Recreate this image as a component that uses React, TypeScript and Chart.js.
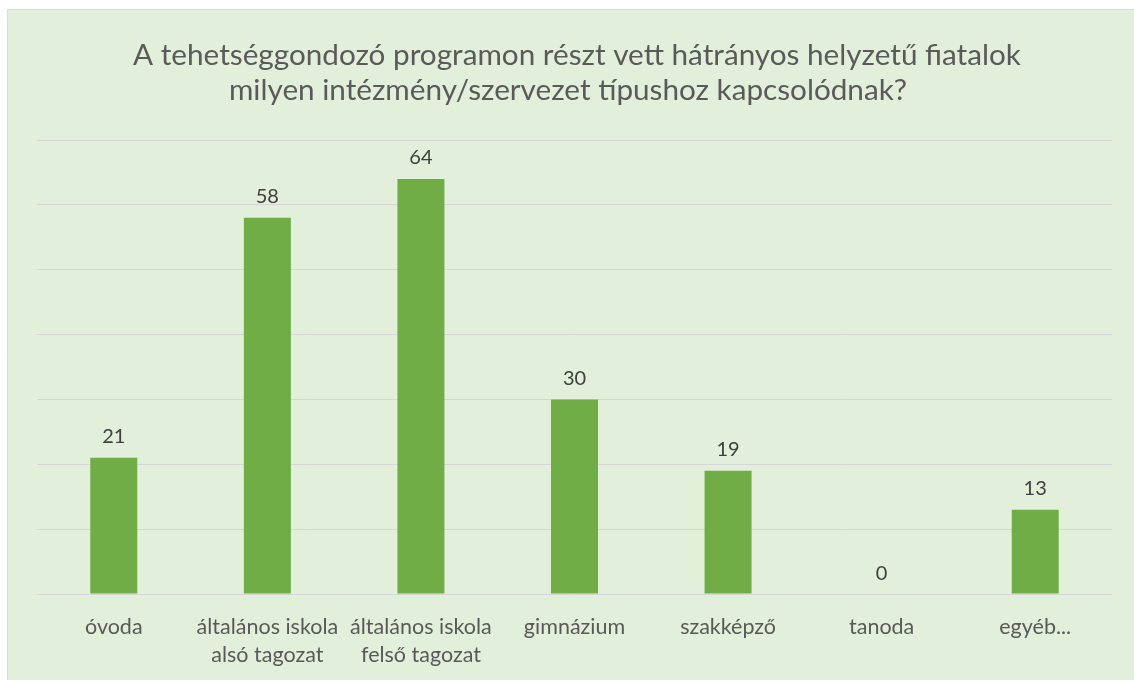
import React, { useEffect, useRef } from "react";
import { Chart, registerables } from "chart.js";
Chart.register(...registerables);

const titleLines = [
  "A tehetséggondozó programon részt vett hátrányos helyzetű fiatalok",
  "milyen intézmény/szervezet típushoz kapcsolódnak?",
];
const categories = [
  ["óvoda"],
  ["általános iskola", "alsó tagozat"],
  ["általános iskola", "felső tagozat"],
  ["gimnázium"],
  ["szakképző"],
  ["tanoda"],
  ["egyéb..."],
];
const values = [21, 58, 64, 30, 19, 0, 13];
const yMax = 70;
const yStep = 10;

const FONT = "Lato, 'Open Sans', sans-serif";
const H = 700;

export default function App() {
  const ref = useRef<HTMLCanvasElement>(null);
  useEffect(() => {
    const canvas = ref.current!;
    const bgPlugin = {
      id: "bg",
      beforeDraw(chart: any) {
        const ctx = chart.ctx;
        ctx.save();
        ctx.fillStyle = "#ffffff";
        ctx.fillRect(0, 0, chart.width, chart.height);
        ctx.fillStyle = "#e2efda";
        ctx.fillRect(7, 9, chart.width - 7, chart.height - 9);
        ctx.strokeStyle = "#d9d9d9";
        ctx.lineWidth = 1;
        ctx.beginPath();
        ctx.moveTo(7.5, chart.height);
        ctx.lineTo(7.5, 9.5);
        ctx.lineTo(chart.width, 9.5);
        ctx.stroke();
        ctx.fillStyle = "#5a5a5a";
        ctx.font = `29.7px ${FONT}`;
        ctx.textAlign = "center";
        ctx.textBaseline = "middle";
        ctx.fillText(titleLines[0], 577, 55);
        ctx.fillText(titleLines[1], 568, 90);
        ctx.restore();
      },
    };
    const labelPlugin = {
      id: "vals",
      afterDatasetsDraw(chart: any) {
        const ctx = chart.ctx;
        const meta = chart.getDatasetMeta(0);
        ctx.save();
        ctx.fillStyle = "#404040";
        ctx.font = `20px ${FONT}`;
        ctx.textAlign = "center";
        ctx.textBaseline = "middle";
        meta.data.forEach((bar: any, i: number) => {
          ctx.fillText(String(values[i]), bar.x, bar.y - 21);
        });
        ctx.restore();
      },
    };
    const chart = new Chart(canvas, {
      type: "bar",
      data: {
        labels: categories,
        datasets: [
          {
            data: values,
            backgroundColor: "#70ad47",
            borderWidth: 0,
            barPercentage: 0.306,
            categoryPercentage: 1,
          },
        ],
      },
      options: {
        responsive: false,
        animation: false,
        layout: { padding: { left: 37, right: 22, top: 140, bottom: 12 } },
        plugins: {
          legend: { display: false },
          title: { display: false },
          tooltip: { enabled: false },
        },
        scales: {
          x: {
            grid: { display: false, drawTicks: false },
            border: { display: false },
            ticks: {
              color: "#595959",
              font: { family: FONT, size: 21.5, lineHeight: 1.3 },
              padding: 19,
              maxRotation: 0,
              autoSkip: false,
            },
          },
          y: {
            min: 0,
            max: yMax,
            ticks: { display: false, stepSize: yStep },
            grid: { color: "#d6d6d6", lineWidth: 1, drawTicks: false },
            border: { display: false },
          },
        },
      },
      plugins: [bgPlugin, labelPlugin],
    });
    return () => chart.destroy();
  }, []);
  return (
    <canvas
      ref={ref}
      width={1134}
      height={H}
      style={{ position: "fixed", left: 0, top: 0, width: 1134, height: H }}
    />
  );
}
